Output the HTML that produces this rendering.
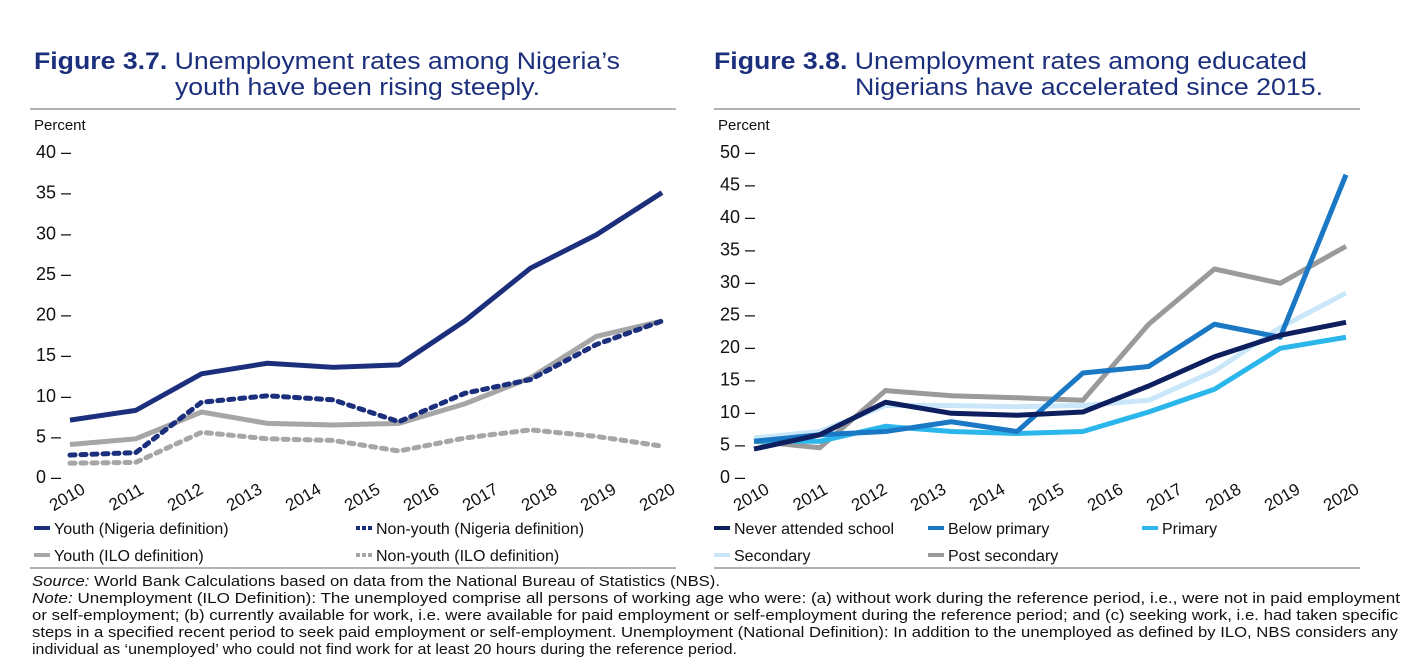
<!DOCTYPE html>
<html><head><meta charset="utf-8"><style>
body{margin:0;background:#fff;width:1416px;height:664px;overflow:hidden;font-family:"Liberation Sans",Arial,sans-serif}
svg text{font-family:"Liberation Sans",Arial,sans-serif}
</style></head><body>
<svg id="s" width="1416" height="664">
<g fill="#1c2f7c" font-size="24">
<text x="34" y="69" textLength="586" lengthAdjust="spacingAndGlyphs"><tspan font-weight="bold">Figure 3.7.</tspan> Unemployment rates among Nigeria’s</text>
<text x="175" y="95" textLength="365" lengthAdjust="spacingAndGlyphs">youth have been rising steeply.</text></g>
<g fill="#1c2f7c" font-size="24">
<text x="714" y="69" textLength="593" lengthAdjust="spacingAndGlyphs"><tspan font-weight="bold">Figure 3.8.</tspan> Unemployment rates among educated</text>
<text x="855" y="95" textLength="468" lengthAdjust="spacingAndGlyphs">Nigerians have accelerated since 2015.</text></g>
<line x1="30" y1="109" x2="676" y2="109" stroke="#666"/>
<line x1="714" y1="109" x2="1360" y2="109" stroke="#666"/>
<line x1="30" y1="568" x2="676" y2="568" stroke="#666"/>
<line x1="714" y1="568" x2="1360" y2="568" stroke="#666"/>
<g id="L"></g><g id="R"></g>
<g font-size="15" fill="#111" lengthAdjust="spacingAndGlyphs">
<text x="32" y="586" textLength="688" lengthAdjust="spacingAndGlyphs"><tspan font-style="italic">Source:</tspan> World Bank Calculations based on data from the National Bureau of Statistics (NBS).</text>
<text x="32" y="603" textLength="1368" lengthAdjust="spacingAndGlyphs"><tspan font-style="italic">Note:</tspan> Unemployment (ILO Definition): The unemployed comprise all persons of working age who were: (a) without work during the reference period, i.e., were not in paid employment</text>
<text x="32" y="620" textLength="1366" lengthAdjust="spacingAndGlyphs">or self-employment; (b) currently available for work, i.e. were available for paid employment or self-employment during the reference period; and (c) seeking work, i.e. had taken specific</text>
<text x="32" y="637" textLength="1366" lengthAdjust="spacingAndGlyphs">steps in a specified recent period to seek paid employment or self-employment. Unemployment (National Definition): In addition to the unemployed as defined by ILO, NBS considers any</text>
<text x="32" y="654" textLength="705" lengthAdjust="spacingAndGlyphs">individual as ‘unemployed’ who could not find work for at least 20 hours during the reference period.</text>
</g>
</svg>
<script>
const years=["2010","2011","2012","2013","2014","2015","2016","2017","2018","2019","2020"];
const leftTicks=[0,5,10,15,20,25,30,35,40];
const rightTicks=[0,5,10,15,20,25,30,35,40,45,50];
const youthNig=[7,8.2,12.7,14,13.5,13.8,19.2,25.7,29.8,35];
const nonYouthNig=[2.7,3,9.2,10,9.5,6.8,10.3,12,16.3,19.2];
const youthILO=[4,4.7,8,6.6,6.4,6.6,9,12.2,17.3,19.2];
const nonYouthILO=[1.7,1.8,5.5,4.7,4.5,3.2,4.8,5.8,5,3.8];
const neverAttended=[4.3,6.5,11.5,9.8,9.5,10,14,18.5,21.8,23.8];
const belowPrimary=[5.5,6.5,7,8.5,7,16,17,23.5,21.5,46.5];
const primary=[5.5,5.5,7.8,7,6.7,7,10,13.5,19.8,21.5];
const secondary=[6,7,11,11,10.8,11,11.8,16.3,23,28.3];
const postSecondary=[5.5,4.5,13.3,12.5,12.2,11.8,23.5,32,29.8,35.5];
const NS="http://www.w3.org/2000/svg";
function mk(t,a,p){const e=document.createElementNS(NS,t);for(const k in a)e.setAttribute(k,a[k]);p.appendChild(e);return e;}
function chart(g,ox,ticks,max,series,legend){
  const y0=477,y1=152,xa=ox+40,xb=ox+632;
  const ys=v=>y0-(v/max)*(y0-y1);
  const xs=i=>xa+i*(xb-xa)/9;
  const p=mk('text',{x:ox+4,y:130,'font-size':15,fill:'#111'},g);p.textContent='Percent';
  
  
  ticks.forEach(t=>{const e=mk('text',{x:ox+6,y:ys(t)+6,'font-size':18,fill:'#111'},g);e.textContent=t+' –';
    
    });
  years.forEach((yr,i)=>{const x=ox+40+i*(590/10),y=502;const e=mk('text',{x:x,y:y,'font-size':17,fill:'#111','text-anchor':'middle',transform:`rotate(-30 ${x} ${y})`},g);e.textContent=yr;
    
    });
  series.forEach(s=>{const pl=mk('polyline',{points:s.d.map((v,i)=>xs(i)+','+ys(v)).join(' '),fill:'none',stroke:s.c,'stroke-width':5,'stroke-linejoin':'round','stroke-linecap':s.dash?'round':'butt','stroke-dasharray':s.dash?'5 6':'none'},g);
    
    });
  legend.forEach(l=>{const lg=mk('g',{},g);
    
    
    mk('line',{x1:l.x,x2:l.x+16,y1:l.y-6,y2:l.y-6,stroke:l.c,'stroke-width':4,'stroke-dasharray':l.dash?'4 2':'none'},lg);
    const t=mk('text',{x:l.x+20,y:l.y,'font-size':16,fill:'#111'},lg);t.textContent=l.t;});
}
const L=document.getElementById('L');

chart(L,30,leftTicks,40,[
 {n:'nonyouth-ilo',d:nonYouthILO,c:'#a6a6a6',dash:1},
 {n:'youth-ilo',d:youthILO,c:'#a6a6a6'},
 {n:'nonyouth-nigeria',d:nonYouthNig,c:'#1c2f7c',dash:1},
 {n:'youth-nigeria',d:youthNig,c:'#1c2f7c'}],
 [{x:34,y:534,c:'#1c2f7c',t:'Youth (Nigeria definition)'},{x:356,y:534,c:'#1c2f7c',dash:1,t:'Non-youth (Nigeria definition)'},
  {x:34,y:561,c:'#a6a6a6',t:'Youth (ILO definition)'},{x:356,y:561,c:'#a6a6a6',dash:1,t:'Non-youth (ILO definition)'}]);
const R=document.getElementById('R');

chart(R,714,rightTicks,50,[
 {n:'post-secondary',d:postSecondary,c:'#9a9a9a'},
 {n:'secondary',d:secondary,c:'#c9e7f9'},
 {n:'primary',d:primary,c:'#2bb6ec'},
 {n:'below-primary',d:belowPrimary,c:'#1b78c4'},
 {n:'never-attended',d:neverAttended,c:'#0d1f5f'}],
 [{x:714,y:534,c:'#0d1f5f',t:'Never attended school'},{x:928,y:534,c:'#1b78c4',t:'Below primary'},{x:1142,y:534,c:'#2bb6ec',t:'Primary'},
  {x:714,y:561,c:'#c9e7f9',t:'Secondary'},{x:928,y:561,c:'#9a9a9a',t:'Post secondary'}]);
</script>
</body></html>
